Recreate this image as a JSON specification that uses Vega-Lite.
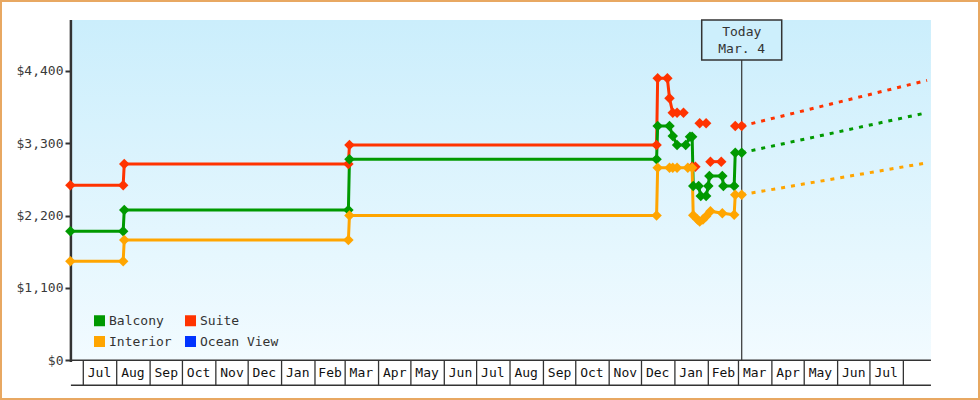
{
  "$schema": "https://vega.github.io/schema/vega-lite/v6.json",
  "width": 978,
  "height": 398,
  "padding": 1,
  "autosize": {"type": "none"},
  "background": "white",
  "config": {
    "view": {"stroke": "#e8a862", "strokeWidth": 2, "fill": "white"},
    "font": "DejaVu Sans Mono",
    "legend": {"orient": "none", "legendX": 92, "legendY": 313, "columns": 2, "direction": "horizontal", "title": null,
               "symbolType": "square", "symbolSize": 121, "symbolStrokeWidth": 0,
               "labelFont": "DejaVu Sans Mono", "labelFontSize": 13, "labelColor": "#333",
               "labelOffset": 3, "columnPadding": 12, "rowPadding": 7, "padding": 0}
  },
  "datasets": {
    "area": [{"part": "plot"}],
    "mticks": [
      {"date": "2021-07-01"}, {"date": "2021-08-01"}, {"date": "2021-09-01"}, {"date": "2021-10-01"},
      {"date": "2021-11-01"}, {"date": "2021-12-01"}, {"date": "2022-01-01"}, {"date": "2022-02-01"},
      {"date": "2022-03-01"}, {"date": "2022-04-01"}, {"date": "2022-05-01"}, {"date": "2022-06-01"},
      {"date": "2022-07-01"}, {"date": "2022-08-01"}, {"date": "2022-09-01"}, {"date": "2022-10-01"},
      {"date": "2022-11-01"}, {"date": "2022-12-01"}, {"date": "2023-01-01"}, {"date": "2023-02-01"},
      {"date": "2023-03-01"}, {"date": "2023-04-01"}, {"date": "2023-05-01"}, {"date": "2023-06-01"},
      {"date": "2023-07-01"}, {"date": "2023-08-01"}
    ],
    "mlabels": [
      {"date": "2021-07-16", "label": "Jul"},
      {"date": "2021-08-16", "label": "Aug"},
      {"date": "2021-09-16", "label": "Sep"},
      {"date": "2021-10-16", "label": "Oct"},
      {"date": "2021-11-16", "label": "Nov"},
      {"date": "2021-12-16", "label": "Dec"},
      {"date": "2022-01-16", "label": "Jan"},
      {"date": "2022-02-15", "label": "Feb"},
      {"date": "2022-03-16", "label": "Mar"},
      {"date": "2022-04-16", "label": "Apr"},
      {"date": "2022-05-16", "label": "May"},
      {"date": "2022-06-16", "label": "Jun"},
      {"date": "2022-07-16", "label": "Jul"},
      {"date": "2022-08-16", "label": "Aug"},
      {"date": "2022-09-16", "label": "Sep"},
      {"date": "2022-10-16", "label": "Oct"},
      {"date": "2022-11-16", "label": "Nov"},
      {"date": "2022-12-16", "label": "Dec"},
      {"date": "2023-01-16", "label": "Jan"},
      {"date": "2023-02-15", "label": "Feb"},
      {"date": "2023-03-16", "label": "Mar"},
      {"date": "2023-04-16", "label": "Apr"},
      {"date": "2023-05-16", "label": "May"},
      {"date": "2023-06-16", "label": "Jun"},
      {"date": "2023-07-16", "label": "Jul"}
    ],
    "prices": [
      {"series": "Suite", "seg": "s1", "date": "2021-06-19", "value": 2659},
      {"series": "Suite", "seg": "s1", "date": "2021-08-07", "value": 2659},
      {"series": "Suite", "seg": "s1", "date": "2021-08-08", "value": 2982},
      {"series": "Suite", "seg": "s1", "date": "2022-03-04", "value": 2982},
      {"series": "Suite", "seg": "s1", "date": "2022-03-05", "value": 3271},
      {"series": "Suite", "seg": "s1", "date": "2022-12-15", "value": 3271},
      {"series": "Suite", "seg": "s1", "date": "2022-12-16", "value": 4284},
      {"series": "Suite", "seg": "s1", "date": "2022-12-25", "value": 4284},
      {"series": "Suite", "seg": "s1", "date": "2022-12-27", "value": 3981},
      {"series": "Suite", "seg": "s1", "date": "2022-12-30", "value": 3760},
      {"series": "Suite", "seg": "s1", "date": "2023-01-03", "value": 3760},
      {"series": "Suite", "seg": "s1", "date": "2023-01-09", "value": 3760},
      {"series": "Suite", "seg": "s2", "date": "2023-01-24", "value": 3601},
      {"series": "Suite", "seg": "s2", "date": "2023-01-30", "value": 3601},
      {"series": "Suite", "seg": "s3", "date": "2023-01-17", "value": 2941},
      {"series": "Suite", "seg": "s3", "date": "2023-01-20", "value": 2941},
      {"series": "Suite", "seg": "s4", "date": "2023-02-03", "value": 3018},
      {"series": "Suite", "seg": "s4", "date": "2023-02-13", "value": 3018},
      {"series": "Suite", "seg": "s5", "date": "2023-02-26", "value": 3560},
      {"series": "Suite", "seg": "s5", "date": "2023-03-04", "value": 3560},
      {"series": "Balcony", "seg": "b1", "date": "2021-06-19", "value": 1960},
      {"series": "Balcony", "seg": "b1", "date": "2021-08-07", "value": 1960},
      {"series": "Balcony", "seg": "b1", "date": "2021-08-08", "value": 2284},
      {"series": "Balcony", "seg": "b1", "date": "2022-03-04", "value": 2284},
      {"series": "Balcony", "seg": "b1", "date": "2022-03-05", "value": 3054},
      {"series": "Balcony", "seg": "b1", "date": "2022-12-15", "value": 3054},
      {"series": "Balcony", "seg": "b1", "date": "2022-12-16", "value": 3560},
      {"series": "Balcony", "seg": "b1", "date": "2022-12-27", "value": 3560},
      {"series": "Balcony", "seg": "b1", "date": "2022-12-30", "value": 3408},
      {"series": "Balcony", "seg": "b1", "date": "2023-01-03", "value": 3271},
      {"series": "Balcony", "seg": "b1", "date": "2023-01-11", "value": 3271},
      {"series": "Balcony", "seg": "b1", "date": "2023-01-15", "value": 3397},
      {"series": "Balcony", "seg": "b1", "date": "2023-01-17", "value": 3397},
      {"series": "Balcony", "seg": "b1", "date": "2023-01-18", "value": 2648},
      {"series": "Balcony", "seg": "b1", "date": "2023-01-23", "value": 2648},
      {"series": "Balcony", "seg": "b1", "date": "2023-01-25", "value": 2496},
      {"series": "Balcony", "seg": "b1", "date": "2023-01-30", "value": 2496},
      {"series": "Balcony", "seg": "b1", "date": "2023-02-01", "value": 2648},
      {"series": "Balcony", "seg": "b1", "date": "2023-02-02", "value": 2800},
      {"series": "Balcony", "seg": "b1", "date": "2023-02-14", "value": 2800},
      {"series": "Balcony", "seg": "b1", "date": "2023-02-15", "value": 2648},
      {"series": "Balcony", "seg": "b1", "date": "2023-02-25", "value": 2648},
      {"series": "Balcony", "seg": "b1", "date": "2023-02-26", "value": 3154},
      {"series": "Balcony", "seg": "b1", "date": "2023-03-04", "value": 3154},
      {"series": "Interior", "seg": "i1", "date": "2021-06-19", "value": 1504},
      {"series": "Interior", "seg": "i1", "date": "2021-08-07", "value": 1504},
      {"series": "Interior", "seg": "i1", "date": "2021-08-08", "value": 1828},
      {"series": "Interior", "seg": "i1", "date": "2022-03-04", "value": 1828},
      {"series": "Interior", "seg": "i1", "date": "2022-03-05", "value": 2200},
      {"series": "Interior", "seg": "i1", "date": "2022-12-15", "value": 2200},
      {"series": "Interior", "seg": "i1", "date": "2022-12-16", "value": 2926},
      {"series": "Interior", "seg": "i1", "date": "2022-12-27", "value": 2926},
      {"series": "Interior", "seg": "i1", "date": "2022-12-30", "value": 2926},
      {"series": "Interior", "seg": "i1", "date": "2023-01-03", "value": 2926},
      {"series": "Interior", "seg": "i1", "date": "2023-01-13", "value": 2926},
      {"series": "Interior", "seg": "i1", "date": "2023-01-17", "value": 2926},
      {"series": "Interior", "seg": "i1", "date": "2023-01-18", "value": 2203},
      {"series": "Interior", "seg": "i1", "date": "2023-01-22", "value": 2140},
      {"series": "Interior", "seg": "i1", "date": "2023-01-24", "value": 2110},
      {"series": "Interior", "seg": "i1", "date": "2023-01-27", "value": 2140},
      {"series": "Interior", "seg": "i1", "date": "2023-01-30", "value": 2190},
      {"series": "Interior", "seg": "i1", "date": "2023-02-03", "value": 2265},
      {"series": "Interior", "seg": "i1", "date": "2023-02-14", "value": 2235},
      {"series": "Interior", "seg": "i1", "date": "2023-02-25", "value": 2210},
      {"series": "Interior", "seg": "i1", "date": "2023-02-26", "value": 2516},
      {"series": "Interior", "seg": "i1", "date": "2023-03-04", "value": 2516}
    ],
    "proj": [
      {"series": "Suite", "date": "2023-03-04", "value": 3560},
      {"series": "Suite", "date": "2023-08-23", "value": 4253},
      {"series": "Balcony", "date": "2023-03-04", "value": 3154},
      {"series": "Balcony", "date": "2023-08-23", "value": 3762},
      {"series": "Interior", "date": "2023-03-04", "value": 2516},
      {"series": "Interior", "date": "2023-08-23", "value": 3001}
    ],
    "today": [{"date": "2023-03-04", "label": "Today\nMar. 4"}]
  },
  "layer": [
    {
      "data": {"name": "area"},
      "mark": {"type": "rect", "fill": {"gradient": "linear", "x1": 0, "y1": 0, "x2": 0, "y2": 1,
               "stops": [{"offset": 0, "color": "#cbeefc"}, {"offset": 1, "color": "#f2fbff"}]}},
      "encoding": {
        "x": {"datum": {"year": 2021, "month": 6, "date": 19, "hours": 12, "utc": true}, "type": "temporal", "axis": null,
              "scale": {"domain": [1618499232000, 1696913280000], "nice": false}},
        "x2": {"datum": {"year": 2023, "month": 8, "date": 26, "hours": 14, "minutes": 24, "utc": true}},
        "y": {"datum": 0, "type": "quantitative", "scale": {"domain": [-588, 5459], "nice": false, "zero": false},
              "axis": {"values": [0, 1100, 2200, 3300, 4400], "format": "$,.0f", "title": null,
                       "grid": false, "domain": false, "offset": -70, "tickSize": 6, "tickWidth": 2,
                       "tickColor": "#333", "labelFont": "DejaVu Sans Mono", "labelFontSize": 13,
                       "labelColor": "#3a3a3a", "labelPadding": 2}},
        "y2": {"datum": 5170}
      }
    },
    {
      "data": {"name": "area"},
      "mark": {"type": "rule", "color": "#333", "strokeWidth": 1.5},
      "encoding": {
        "x": {"datum": {"year": 2021, "month": 6, "date": 19, "hours": 12, "utc": true}, "type": "temporal", "axis": null,
              "scale": {"domain": [1618499232000, 1696913280000], "nice": false}},
        "x2": {"datum": {"year": 2023, "month": 8, "date": 26, "hours": 14, "minutes": 24, "utc": true}},
        "y": {"datum": 0, "type": "quantitative", "scale": {"domain": [-588, 5459], "nice": false, "zero": false},
              "axis": {"values": [0, 1100, 2200, 3300, 4400], "format": "$,.0f", "title": null,
                       "grid": false, "domain": false, "offset": -70, "tickSize": 6, "tickWidth": 2,
                       "tickColor": "#333", "labelFont": "DejaVu Sans Mono", "labelFontSize": 13,
                       "labelColor": "#3a3a3a", "labelPadding": 2}}
      }
    },
    {
      "data": {"name": "area"},
      "mark": {"type": "rule", "color": "#333", "strokeWidth": 1.5},
      "encoding": {
        "x": {"datum": {"year": 2021, "month": 6, "date": 19, "hours": 12, "utc": true}, "type": "temporal", "axis": null,
              "scale": {"domain": [1618499232000, 1696913280000], "nice": false}},
        "x2": {"datum": {"year": 2023, "month": 8, "date": 26, "hours": 14, "minutes": 24, "utc": true}},
        "y": {"datum": -380, "type": "quantitative", "scale": {"domain": [-588, 5459], "nice": false, "zero": false},
              "axis": {"values": [0, 1100, 2200, 3300, 4400], "format": "$,.0f", "title": null,
                       "grid": false, "domain": false, "offset": -70, "tickSize": 6, "tickWidth": 2,
                       "tickColor": "#333", "labelFont": "DejaVu Sans Mono", "labelFontSize": 13,
                       "labelColor": "#3a3a3a", "labelPadding": 2}}
      }
    },
    {
      "data": {"name": "area"},
      "mark": {"type": "rule", "color": "#333", "strokeWidth": 2.5},
      "encoding": {
        "x": {"datum": {"year": 2021, "month": 6, "date": 19, "hours": 12, "utc": true}, "type": "temporal", "axis": null,
              "scale": {"domain": [1618499232000, 1696913280000], "nice": false}},
        "y": {"datum": -25, "type": "quantitative", "scale": {"domain": [-588, 5459], "nice": false, "zero": false},
              "axis": {"values": [0, 1100, 2200, 3300, 4400], "format": "$,.0f", "title": null,
                       "grid": false, "domain": false, "offset": -70, "tickSize": 6, "tickWidth": 2,
                       "tickColor": "#333", "labelFont": "DejaVu Sans Mono", "labelFontSize": 13,
                       "labelColor": "#3a3a3a", "labelPadding": 2}},
        "y2": {"datum": 5170}
      }
    },
    {
      "data": {"name": "mticks"},
      "mark": {"type": "tick", "orient": "vertical", "size": 25, "thickness": 1.3, "color": "#333", "opacity": 1},
      "encoding": {
        "x": {"field": "date", "type": "temporal", "axis": null,
              "scale": {"domain": [1618499232000, 1696913280000], "nice": false}},
        "y": {"datum": -190, "type": "quantitative", "scale": {"domain": [-588, 5459], "nice": false, "zero": false},
              "axis": {"values": [0, 1100, 2200, 3300, 4400], "format": "$,.0f", "title": null,
                       "grid": false, "domain": false, "offset": -70, "tickSize": 6, "tickWidth": 2,
                       "tickColor": "#333", "labelFont": "DejaVu Sans Mono", "labelFontSize": 13,
                       "labelColor": "#3a3a3a", "labelPadding": 2}}
      }
    },
    {
      "data": {"name": "mlabels"},
      "mark": {"type": "text", "fontSize": 13, "color": "#111", "baseline": "middle", "align": "center"},
      "encoding": {
        "x": {"field": "date", "type": "temporal", "axis": null,
              "scale": {"domain": [1618499232000, 1696913280000], "nice": false}},
        "y": {"datum": -190, "type": "quantitative", "scale": {"domain": [-588, 5459], "nice": false, "zero": false},
              "axis": {"values": [0, 1100, 2200, 3300, 4400], "format": "$,.0f", "title": null,
                       "grid": false, "domain": false, "offset": -70, "tickSize": 6, "tickWidth": 2,
                       "tickColor": "#333", "labelFont": "DejaVu Sans Mono", "labelFontSize": 13,
                       "labelColor": "#3a3a3a", "labelPadding": 2}},
        "text": {"field": "label"}
      }
    },
    {
      "data": {"name": "today"},
      "mark": {"type": "rule", "color": "#333", "strokeWidth": 1.2},
      "encoding": {
        "x": {"field": "date", "type": "temporal", "axis": null,
              "scale": {"domain": [1618499232000, 1696913280000], "nice": false}},
        "y": {"datum": 0, "type": "quantitative", "scale": {"domain": [-588, 5459], "nice": false, "zero": false},
              "axis": {"values": [0, 1100, 2200, 3300, 4400], "format": "$,.0f", "title": null,
                       "grid": false, "domain": false, "offset": -70, "tickSize": 6, "tickWidth": 2,
                       "tickColor": "#333", "labelFont": "DejaVu Sans Mono", "labelFontSize": 13,
                       "labelColor": "#3a3a3a", "labelPadding": 2}},
        "y2": {"datum": 4866}
      }
    },
    {
      "data": {"name": "proj"},
      "mark": {"type": "line", "strokeWidth": 3, "strokeDash": [4, 6]},
      "encoding": {
        "x": {"field": "date", "type": "temporal", "axis": null,
              "scale": {"domain": [1618499232000, 1696913280000], "nice": false}},
        "y": {"field": "value", "type": "quantitative", "scale": {"domain": [-588, 5459], "nice": false, "zero": false},
              "axis": {"values": [0, 1100, 2200, 3300, 4400], "format": "$,.0f", "title": null,
                       "grid": false, "domain": false, "offset": -70, "tickSize": 6, "tickWidth": 2,
                       "tickColor": "#333", "labelFont": "DejaVu Sans Mono", "labelFontSize": 13,
                       "labelColor": "#3a3a3a", "labelPadding": 2}},
        "color": {"field": "series", "type": "nominal",
                  "scale": {"domain": ["Balcony", "Suite", "Interior", "Ocean View"], "range": ["#009900", "#ff3300", "#ffa500", "#0033ff"]}}
      }
    },
    {
      "data": {"name": "prices"},
      "mark": {"type": "line", "strokeWidth": 3},
      "encoding": {
        "x": {"field": "date", "type": "temporal", "axis": null,
              "scale": {"domain": [1618499232000, 1696913280000], "nice": false}},
        "y": {"field": "value", "type": "quantitative", "scale": {"domain": [-588, 5459], "nice": false, "zero": false},
              "axis": {"values": [0, 1100, 2200, 3300, 4400], "format": "$,.0f", "title": null,
                       "grid": false, "domain": false, "offset": -70, "tickSize": 6, "tickWidth": 2,
                       "tickColor": "#333", "labelFont": "DejaVu Sans Mono", "labelFontSize": 13,
                       "labelColor": "#3a3a3a", "labelPadding": 2}},
        "color": {"field": "series", "type": "nominal",
                  "scale": {"domain": ["Balcony", "Suite", "Interior", "Ocean View"], "range": ["#009900", "#ff3300", "#ffa500", "#0033ff"]}},
        "detail": {"field": "seg"}
      }
    },
    {
      "data": {"name": "prices"},
      "mark": {"type": "point", "shape": "diamond", "size": 110, "filled": true, "opacity": 1, "strokeWidth": 0},
      "encoding": {
        "x": {"field": "date", "type": "temporal", "axis": null,
              "scale": {"domain": [1618499232000, 1696913280000], "nice": false}},
        "y": {"field": "value", "type": "quantitative", "scale": {"domain": [-588, 5459], "nice": false, "zero": false},
              "axis": {"values": [0, 1100, 2200, 3300, 4400], "format": "$,.0f", "title": null,
                       "grid": false, "domain": false, "offset": -70, "tickSize": 6, "tickWidth": 2,
                       "tickColor": "#333", "labelFont": "DejaVu Sans Mono", "labelFontSize": 13,
                       "labelColor": "#3a3a3a", "labelPadding": 2}},
        "color": {"field": "series", "type": "nominal",
                  "scale": {"domain": ["Balcony", "Suite", "Interior", "Ocean View"], "range": ["#009900", "#ff3300", "#ffa500", "#0033ff"]}}
      }
    },
    {
      "data": {"name": "today"},
      "mark": {"type": "point", "shape": "M-1,-0.5L1,-0.5L1,0.5L-1,0.5Z", "size": 6400, "filled": true,
               "fill": "#cdeffc", "stroke": "#333", "strokeWidth": 1.5, "opacity": 1},
      "encoding": {
        "x": {"field": "date", "type": "temporal", "axis": null,
              "scale": {"domain": [1618499232000, 1696913280000], "nice": false}},
        "y": {"datum": 4866, "type": "quantitative", "scale": {"domain": [-588, 5459], "nice": false, "zero": false},
              "axis": {"values": [0, 1100, 2200, 3300, 4400], "format": "$,.0f", "title": null,
                       "grid": false, "domain": false, "offset": -70, "tickSize": 6, "tickWidth": 2,
                       "tickColor": "#333", "labelFont": "DejaVu Sans Mono", "labelFontSize": 13,
                       "labelColor": "#3a3a3a", "labelPadding": 2}}
      }
    },
    {
      "data": {"name": "today"},
      "mark": {"type": "text", "lineBreak": "\n", "fontSize": 13, "lineHeight": 17, "dy": -8, "color": "#333", "baseline": "middle", "align": "center"},
      "encoding": {
        "x": {"field": "date", "type": "temporal", "axis": null,
              "scale": {"domain": [1618499232000, 1696913280000], "nice": false}},
        "y": {"datum": 4866, "type": "quantitative", "scale": {"domain": [-588, 5459], "nice": false, "zero": false},
              "axis": {"values": [0, 1100, 2200, 3300, 4400], "format": "$,.0f", "title": null,
                       "grid": false, "domain": false, "offset": -70, "tickSize": 6, "tickWidth": 2,
                       "tickColor": "#333", "labelFont": "DejaVu Sans Mono", "labelFontSize": 13,
                       "labelColor": "#3a3a3a", "labelPadding": 2}},
        "text": {"field": "label"}
      }
    }
  ]
}
